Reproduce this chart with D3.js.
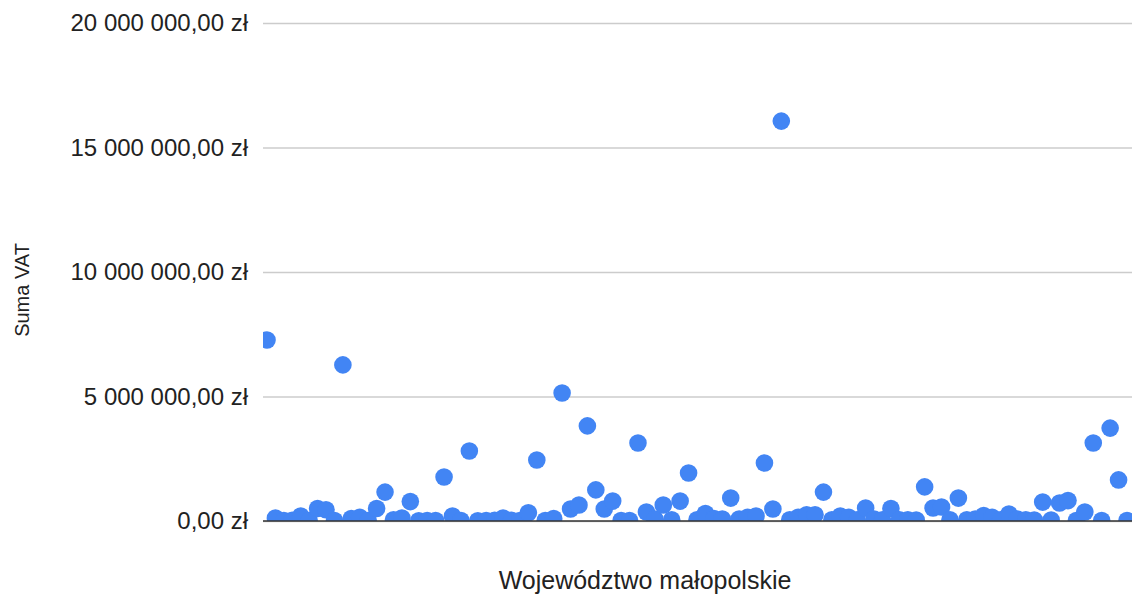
<!DOCTYPE html>
<html>
<head>
<meta charset="utf-8">
<script src="https://cdn.jsdelivr.net/npm/d3@7"></script>
<style>
  body { margin: 0; background: #fff; }
  svg text { font-family: "Liberation Sans", Arial, sans-serif; fill: #222; }
</style>
</head>
<body>
<svg id="chart" width="1132" height="594"></svg>
<script>
// Suma VAT per row (zł), one value per point, left to right
var vatValues = [
  7270000, 120000, 20000, 30000, 200000, 20000, 500000, 450000, 20000, 6270000,
  100000, 150000, 20000, 500000, 1160000, 50000, 120000, 780000, 10000, 20000,
  20000, 1770000, 200000, 20000, 2810000, 10000, 20000, 30000, 120000, 30000,
  20000, 330000, 2450000, 20000, 100000, 5140000, 480000, 640000, 3820000, 1250000,
  480000, 800000, 20000, 20000, 3130000, 360000, 80000, 640000, 50000, 800000,
  1930000, 50000, 300000, 100000, 80000, 920000, 80000, 150000, 200000, 2330000,
  480000, 16060000, 50000, 150000, 250000, 250000, 1160000, 50000, 200000, 150000,
  50000, 520000, 80000, 50000, 500000, 50000, 50000, 40000, 1370000, 520000,
  560000, 50000, 920000, 50000, 80000, 220000, 150000, 50000, 280000, 80000,
  50000, 40000, 760000, 40000, 720000, 820000, 20000, 360000, 3130000, 20000,
  3730000, 1650000, 20000
];
var yTicks = [0, 5000000, 10000000, 15000000, 20000000];
var yTitle = 'Suma VAT';
var xTitle = 'Województwo małopolskie';

(function (d3) {
  'use strict';
  var svg = d3.select('#chart');
  var plot = { left: 263, right: 1132, top: 23, bottom: 521 };

  var x = d3.scaleLinear().domain([0, vatValues.length - 1]).range([267, 1127]);
  var y = d3.scaleLinear().domain([0, 20000000]).range([plot.bottom, plot.top]);

  // "20 000 000,00 zł"
  var formatZl = function (v) {
    var s = d3.format(',.2f')(v);
    return s.replace(/,/g, ' ').replace('.', ',') + ' zł';
  };

  /** gridlines + labels */
  var yAxis = d3.axisLeft(y).tickValues(yTicks).tickFormat(formatZl)
    .tickSize(-(plot.right - plot.left)).tickPadding(15);
  var axisG = svg.append('g').attr('transform', 'translate(' + plot.left + ',0)').call(yAxis);
  axisG.select('.domain').remove();
  axisG.selectAll('line').attr('stroke', '#cccccc').attr('stroke-width', 1.3);
  axisG.selectAll('text').attr('font-size', 24).attr('fill', '#222')
    .attr('font-family', '"Liberation Sans", Arial, sans-serif');

  /** points */
  svg.append('clipPath').attr('id', 'plot-clip').append('rect')
    .attr('x', plot.left).attr('y', 0)
    .attr('width', plot.right - plot.left).attr('height', plot.bottom);

  svg.append('g').attr('clip-path', 'url(#plot-clip)')
    .selectAll('circle').data(vatValues).enter().append('circle')
    .attr('cx', function (d, i) { return x(i); })
    .attr('cy', function (d) { return y(d); })
    .attr('r', 8.8)
    .attr('fill', '#4285f4');

  // baseline
  svg.append('line')
    .attr('x1', plot.left).attr('x2', plot.right)
    .attr('y1', y(0)).attr('y2', y(0))
    .attr('stroke', '#333').attr('stroke-width', 1.5);

  /** axis titles */
  svg.append('text').text(yTitle)
    .attr('transform', 'translate(29,' + 290 + ') rotate(-90)')
    .attr('text-anchor', 'middle').attr('font-size', 20);

  svg.append('text').text(xTitle)
    .attr('x', 645).attr('y', 589)
    .attr('text-anchor', 'middle').attr('font-size', 25);
})(d3);
</script>
</body>
</html>
